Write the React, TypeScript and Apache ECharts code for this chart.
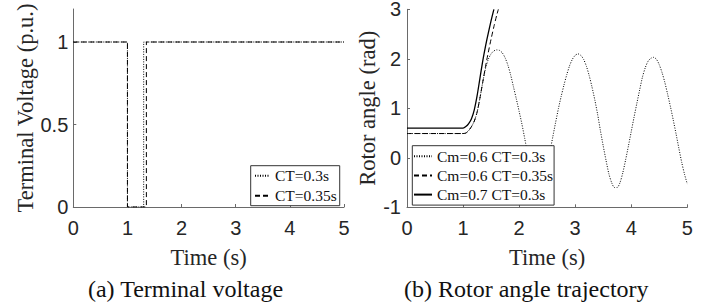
import React, { useEffect, useRef } from "react";
import * as echarts from "echarts";

// ---------- data ----------
const timeTicks = [0, 1, 2, 3, 4, 5];
const voltageTicks = [0, 0.5, 1];
const angleTicks = [-1, 0, 1, 2, 3];

const voltageTimeCt03 = [0, 1, 1, 1.3, 1.3, 5];
const voltageCt03 = [1, 1, 0, 0, 1, 1];
const voltageTimeCt035 = [0, 1, 1, 1.35, 1.35, 5];
const voltageCt035 = [1, 1, 0, 0, 1, 1];

const angleTimeCm06Ct03 = [
  0, 1.0, 1.05, 1.1, 1.15, 1.2, 1.25, 1.3, 1.35, 1.4, 1.45, 1.5, 1.55, 1.6, 1.65,
  1.7, 1.75, 1.8, 1.85, 1.9, 1.95, 2.0, 2.05, 2.1, 2.15, 2.2, 2.25, 2.3, 2.35,
  2.4, 2.45, 2.5, 2.55, 2.6, 2.65, 2.7, 2.75, 2.8, 2.85, 2.9, 2.95, 3.0, 3.05,
  3.1, 3.15, 3.2, 3.25, 3.3, 3.35, 3.4, 3.45, 3.5, 3.55, 3.6, 3.65, 3.7, 3.75,
  3.8, 3.85, 3.9, 3.95, 4.0, 4.05, 4.1, 4.15, 4.2, 4.25, 4.3, 4.35, 4.4, 4.45,
  4.5, 4.55, 4.6, 4.65, 4.7, 4.75, 4.8, 4.85, 4.9, 4.95, 5.0,
];
const angleCm06Ct03 = [
  0.49, 0.49, 0.5, 0.55, 0.63, 0.74, 0.92, 1.2, 1.52, 1.8, 1.99, 2.1, 2.16, 2.18, 2.17,
  2.12, 2.02, 1.87, 1.67, 1.43, 1.19, 0.94, 0.68, 0.39, 0.09, -0.19, -0.42, -0.58, -0.64,
  -0.57, -0.4, -0.16, 0.12, 0.42, 0.71, 0.99, 1.24, 1.47, 1.68, 1.86, 1.99, 2.07, 2.1,
  2.07, 1.99, 1.85, 1.66, 1.43, 1.17, 0.88, 0.55, 0.24, -0.05, -0.32, -0.5, -0.6, -0.6,
  -0.5, -0.3, -0.04, 0.24, 0.53, 0.82, 1.1, 1.37, 1.63, 1.82, 1.95, 2.01, 2.03, 1.99,
  1.88, 1.72, 1.52, 1.28, 1.03, 0.76, 0.48, 0.19, -0.09, -0.33, -0.53,
];

const angleTimeCm06Ct035 = [0, 1.0, 1.05, 1.1, 1.15, 1.2, 1.25, 1.3, 1.35, 1.4, 1.45, 1.5, 1.55, 1.6, 1.63];
const angleCm06Ct035 = [0.49, 0.49, 0.5, 0.55, 0.63, 0.74, 0.92, 1.2, 1.52, 1.84, 2.13, 2.4, 2.65, 2.88, 3.0];

const angleTimeCm07Ct03 = [0, 1.0, 1.05, 1.1, 1.15, 1.2, 1.25, 1.3, 1.35, 1.4, 1.45, 1.5, 1.55];
const angleCm07Ct03 = [0.6, 0.6, 0.63, 0.69, 0.79, 0.97, 1.25, 1.6, 1.95, 2.25, 2.52, 2.77, 3.0];

const legendVoltage = ["CT=0.3s", "CT=0.35s"];
const legendAngle = ["Cm=0.6 CT=0.3s", "Cm=0.6 CT=0.35s", "Cm=0.7 CT=0.3s"];
const captions = ["(a) Terminal voltage", "(b) Rotor angle trajectory"];

// ---------- helpers ----------
const zip = (xs: number[], ys: number[]) => xs.map((x, i) => [x, ys[i]]);

const AXIS_COLOR = "#6a6a6a";
const TEXT_COLOR = "#262626";
const SANS = "Liberation Sans";
const SERIF = "Liberation Serif";

const DOTTED = [1, 1.5];
const DASHED = [5, 3];

function xAxis(gridIndex: number) {
  return {
    type: "value",
    gridIndex,
    min: 0,
    max: 5,
    interval: 1,
    name: "Time (s)",
    nameLocation: "middle",
    nameGap: 39,
    nameTextStyle: { fontFamily: SERIF, fontSize: 22.5, color: TEXT_COLOR },
    axisLine: { show: true, onZero: false, lineStyle: { color: AXIS_COLOR, width: 1 } },
    axisTick: { show: true, inside: true, length: 3, lineStyle: { color: AXIS_COLOR } },
    axisLabel: {
      color: TEXT_COLOR,
      fontFamily: SANS,
      fontSize: 20,
      margin: 11,
      customValues: timeTicks,
    },
    splitLine: { show: false },
  };
}

function lineSeries(name: string, xi: number, data: number[][], type: any, width = 1) {
  return {
    type: "line",
    name,
    xAxisIndex: xi,
    yAxisIndex: xi,
    data,
    symbol: "none",
    smooth: xi === 1 ? 0.25 : false,
    color: "#000",
    lineStyle: { color: "#000", width, type },
    itemStyle: { color: "#000" },
    clip: true,
  };
}

export default function App() {
  const ref = useRef<HTMLDivElement>(null);

  useEffect(() => {
    if (!ref.current) return;
    const chart = echarts.init(ref.current, undefined, { renderer: "svg" });
    const legendBase = {
      orient: "vertical",
      backgroundColor: "#fff",
      borderColor: "#333",
      borderWidth: 1,
      borderRadius: 0,
      selectedMode: false,
      itemHeight: 10,
      itemStyle: { opacity: 0, borderWidth: 0 },
      textStyle: { fontFamily: SERIF, fontSize: 15.5, color: "#111", lineHeight: 15 },
    };
    chart.setOption({
      animation: false,
      grid: [
        { left: 73.3, top: 9, width: 270.7, height: 198, containLabel: false, outerBoundsMode: "none" },
        { left: 407, top: 9.3, width: 280.3, height: 198, containLabel: false, outerBoundsMode: "none" },
      ],
      xAxis: [xAxis(0), xAxis(1)],
      yAxis: [
        {
          type: "value",
          gridIndex: 0,
          min: 0,
          max: 1.2,
          interval: 0.5,
          name: "Terminal Voltage (p.u.)",
          nameLocation: "middle",
          nameGap: 34,
          nameTextStyle: { fontFamily: SERIF, fontSize: 22.5, color: TEXT_COLOR },
          axisLine: { show: true, onZero: false, lineStyle: { color: AXIS_COLOR, width: 1 } },
          axisTick: { show: true, inside: true, length: 3, customValues: voltageTicks, lineStyle: { color: AXIS_COLOR } },
          axisLabel: { color: TEXT_COLOR, fontFamily: SANS, fontSize: 20, margin: 5, customValues: voltageTicks },
          splitLine: { show: false },
        },
        {
          type: "value",
          gridIndex: 1,
          min: -1,
          max: 3,
          interval: 1,
          name: "Rotor angle (rad)",
          nameLocation: "middle",
          nameGap: 26,
          nameTextStyle: { fontFamily: SERIF, fontSize: 22.5, color: TEXT_COLOR },
          axisLine: { show: true, onZero: false, lineStyle: { color: AXIS_COLOR, width: 1 } },
          axisTick: { show: true, inside: true, length: 3, customValues: angleTicks, lineStyle: { color: AXIS_COLOR } },
          axisLabel: { color: TEXT_COLOR, fontFamily: SANS, fontSize: 20, margin: 6, customValues: angleTicks },
          splitLine: { show: false },
        },
      ],
      legend: [
        {
          ...legendBase,
          data: legendVoltage,
          left: 250.7,
          top: 165.7,
          padding: [2, 3, 2, 3.3],
          itemWidth: 15,
          itemGap: 4,
        },
        {
          ...legendBase,
          data: legendAngle,
          left: 412.3,
          top: 145.7,
          padding: [2.5, 1, 2.5, 0.7],
          itemWidth: 18,
          itemGap: 3.2,
        },
      ],
      series: [
        lineSeries(legendVoltage[0], 0, zip(voltageTimeCt03, voltageCt03), DOTTED),
        lineSeries(legendVoltage[1], 0, zip(voltageTimeCt035, voltageCt035), DASHED),
        lineSeries(legendAngle[0], 1, zip(angleTimeCm06Ct03, angleCm06Ct03), DOTTED),
        lineSeries(legendAngle[1], 1, zip(angleTimeCm06Ct035, angleCm06Ct035), DASHED),
        lineSeries(legendAngle[2], 1, zip(angleTimeCm07Ct03, angleCm07Ct03), "solid", 1.3),
      ],
      graphic: [
        {
          type: "text",
          x: 185.5,
          y: 289,
          style: { text: captions[0], fontFamily: SERIF, fontSize: 24, fill: "#111", align: "center", verticalAlign: "middle" },
        },
        {
          type: "text",
          x: 526.3,
          y: 289,
          style: { text: captions[1], fontFamily: SERIF, fontSize: 24, fill: "#111", align: "center", verticalAlign: "middle" },
        },
      ],
    });
    return () => chart.dispose();
  }, []);

  return (
    <div
      ref={ref}
      style={{ position: "absolute", left: 0, top: 0, width: 718, height: 308, background: "#fff" }}
    />
  );
}
